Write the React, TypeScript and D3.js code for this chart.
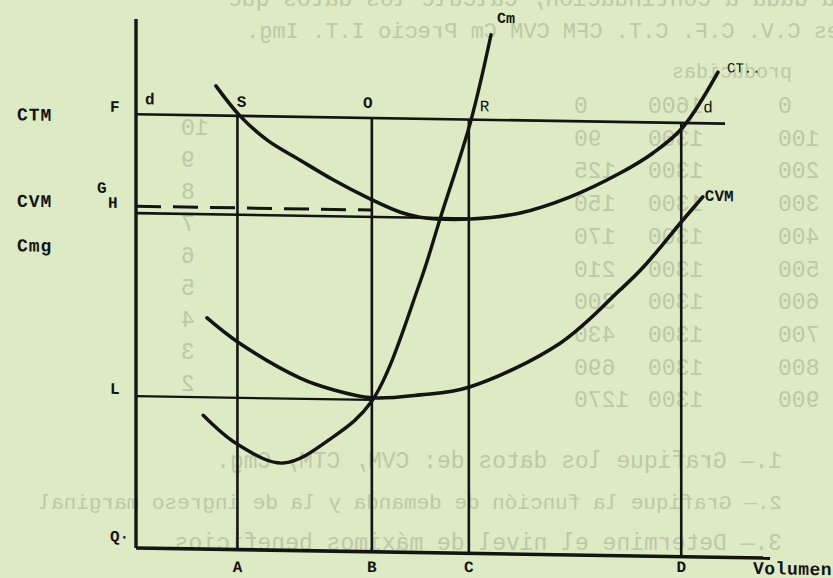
import React from "react";
import * as d3 from "d3";

// quantities marked on the "Volumen" axis
const volumeLabels = ["A", "B", "C", "D"];
const volumeValues = [160, 372, 525, 860];

// cost levels marked on the vertical axis
const levelLabels = ["F", "G", "H", "L"];
const levelValues = [82, 64.6, 63.3, 28.7];

// CT.. (average total cost) curve
const ctmQ = [126, 164, 207, 259, 311, 369, 416, 448, 527, 606, 685, 763, 815, 862, 918];
const ctmC = [87.6, 82.0, 77.5, 73.8, 70.2, 66.7, 64.3, 63.4, 63.2, 64.5, 67.7, 72.3, 76.2, 81.1, 91.7];

// Cm (marginal cost) curve
const cmQ = [106, 159, 232, 311, 372, 448, 480, 528, 560];
const cmC = [25.3, 20.0, 16.5, 21.6, 28.5, 51.1, 63.3, 81.7, 98.1];

// CVM (average variable cost) curve
const cvmQ = [112, 161, 259, 311, 372, 448, 525, 669, 763, 800, 863, 894];
const cvmC = [43.7, 39.2, 32.6, 30.5, 29.1, 29.8, 31.4, 40.0, 50.2, 54.6, 63.7, 68.1];

// text showing through from the back of the page (mirrored)
const backHeader = [
  "—En la tabla dada a continuación, calcule los datos que",
  "unidades  C.V.  C.F.  C.T.  CFM  CVM  Cm  Precio  I.T.  Img.",
  "producidas",
];
const tableUnits = ["0", "100", "200", "300", "400", "500", "600", "700", "800", "900"];
const tableFixed = ["1600", "1300", "1300", "1300", "1300", "1300", "1300", "1300", "1300", "1300"];
const tableVar = ["0", "90", "125", "150", "170", "210", "300", "430", "690", "1270"];
const scaleDigits = ["10", "9", "8", "7", "6", "5", "4", "3", "2"];
const exercises = [
  "1.— Grafique los datos de: CVM, CTM, Cmg.",
  "2.— Grafique la función de demanda y la de ingreso marginal",
  "3.— Determine el nivel de máximos beneficios",
];

const W = 833;
const H = 578;
const skew = 0.016; // the scan is slightly tilted

const ink = "#141412";
const paper = "#dcebc3";
const ghost = "#bcc8a7";

function zip(q: number[], c: number[]) {
  return q.map((v, i) => [v, c[i]] as [number, number]);
}

function Mirror({ x, y, anchor, size, children }: { x: number; y: number; anchor: string; size?: number; children: any }) {
  return (
    <text
      transform={`translate(${x},${y}) scale(-1,1)`}
      textAnchor={anchor}
      style={size ? { fontSize: size } : undefined}
    >
      {children}
    </text>
  );
}

export default function App() {
  const x = d3.scaleLinear().domain([0, 1000]).range([136, 770]);
  const y = d3.scaleLinear().domain([0, 100]).range([548, 19]);

  const line = d3
    .line<[number, number]>()
    .x(d => x(d[0]))
    .y(d => y(d[1]))
    .curve(d3.curveCatmullRom.alpha(0.5));

  const ctm = zip(ctmQ, ctmC);
  const cm = zip(cmQ, cmC);
  const cvm = zip(cvmQ, cvmC);

  const [qA, qB, qC, qD] = volumeValues;
  const [F, G, Hh, L] = levelValues;
  const cmEnd = cm[cm.length - 1];
  const ctmEnd = ctm[ctm.length - 1];
  const cvmEnd = cvm[cvm.length - 1];

  // undo the tilt for text that sits level on the page
  const level = (px: number) => -skew * (px - x(0));

  const big = { fontFamily: "'Liberation Mono', monospace", fontWeight: 700 };

  return (
    <svg
      width={W}
      height={H}
      style={{ position: "absolute", left: 0, top: 0, background: paper }}
    >
      <rect width={W} height={H} fill={paper} />

      {/* bleed-through of the other side */}
      <g fill={ghost} style={{ fontFamily: "'Liberation Mono', monospace", fontSize: 23 }}>
        <Mirror x={228} y={6} anchor="end">{backHeader[0]}</Mirror>
        <Mirror x={246} y={38} anchor="end" size={22}>{backHeader[1]}</Mirror>
        <Mirror x={792} y={78} anchor="start" size={20}>{backHeader[2]}</Mirror>
        {scaleDigits.map((d, i) => (
          <Mirror key={"s" + i} x={181} y={135 + i * 32} anchor="end">{d}</Mirror>
        ))}
        {tableUnits.map((d, i) => (
          <g key={"t" + i}>
            <Mirror x={574} y={113 + i * 32.7} anchor="end">{tableVar[i]}</Mirror>
            <Mirror x={648} y={113 + i * 32.7} anchor="end">{tableFixed[i]}</Mirror>
            <Mirror x={778} y={113 + i * 32.7} anchor="end">{d}</Mirror>
          </g>
        ))}
        {exercises.map((t, i) => (
          <Mirror key={"e" + i} x={782} y={468 + i * 41} anchor="start" size={i === 1 ? 21 : 23}>
            {t}
          </Mirror>
        ))}
      </g>

      <g transform={`matrix(1,${skew},0,1,0,${-skew * x(0)})`}>
        {/* guide lines */}
        <line x1={x(0)} x2={x(929)} y1={y(F)} y2={y(F)} stroke={ink} strokeWidth={2.6} />
        <line x1={x(0)} x2={x(qC)} y1={y(Hh)} y2={y(Hh)} stroke={ink} strokeWidth={2.6} />
        <line
          x1={x(0)}
          x2={x(qB)}
          y1={y(G)}
          y2={y(G)}
          stroke={ink}
          strokeWidth={3}
          strokeDasharray="25 12"
        />
        <line x1={x(0)} x2={x(qB)} y1={y(L)} y2={y(L)} stroke={ink} strokeWidth={2.2} />
        {volumeValues.map((v, i) => (
          <line key={i} x1={x(v)} x2={x(v)} y1={y(F)} y2={y(0)} stroke={ink} strokeWidth={2.6} />
        ))}

        {/* axes */}
        <line x1={x(0)} x2={x(0)} y1={y(100)} y2={y(0)} stroke={ink} strokeWidth={3.4} />
        <line x1={x(0)} x2={x(1000)} y1={y(0)} y2={y(0)} stroke={ink} strokeWidth={3.6} />

        {/* curves */}
        <path d={line(ctm) || ""} fill="none" stroke={ink} strokeWidth={3.6} strokeLinecap="round" />
        <path d={line(cm) || ""} fill="none" stroke={ink} strokeWidth={3.4} strokeLinecap="round" />
        <path d={line(cvm) || ""} fill="none" stroke={ink} strokeWidth={3.6} strokeLinecap="round" />

        {/* left labels */}
        <g fill={ink} style={{ ...big, fontSize: 18, letterSpacing: 1 }}>
          <text x={17} y={y(F) + 8}>CTM</text>
          <text x={17} y={y(Hh) - 4.5}>CVM</text>
          <text x={17} y={y(Hh) + 40}>Cmg</text>
        </g>

        <g fill={ink} style={{ ...big, fontSize: 16 }}>
          <text x={110} y={y(F) - 2}>{levelLabels[0]}</text>
          <text x={97} y={y(G) - 13}>{levelLabels[1]}</text>
          <text x={108} y={y(Hh) - 5}>{levelLabels[2]}</text>
          <text x={110} y={y(L) - 2}>{levelLabels[3]}</text>
          <text x={110} y={y(0) - 6}>Q·</text>
          <text x={x(0) + 9} y={y(F) - 10}>d</text>
          <text x={x(qA) + 4} y={y(F) - 9} textAnchor="middle">S</text>
          <text x={x(qB) - 4} y={y(F) - 10} textAnchor="middle">O</text>
          {volumeLabels.map((t, i) => (
            <text
              key={t}
              x={x(volumeValues[i])}
              y={y(0) + 24 + level(x(volumeValues[i]))}
              textAnchor="middle"
            >
              {t}
            </text>
          ))}
        </g>

        <g fill={ink} style={{ fontFamily: "'Liberation Mono', monospace", fontSize: 16 }}>
          <text x={x(qC) + 11} y={y(F) - 8.5}>R</text>
          <text x={x(qD) + 22} y={y(F) - 11}>d</text>
        </g>

        <text
          x={753}
          y={y(0) + 26 + level(753)}
          fill={ink}
          style={{ ...big, fontSize: 18, letterSpacing: 0.5 }}
        >
          Volumen
        </text>

        {/* curve end labels */}
        <g fill={ink} style={{ fontFamily: "'Liberation Mono', monospace" }}>
          <text x={x(cmEnd[0]) + 6} y={y(cmEnd[1]) - 12} style={{ fontSize: 15, fontWeight: 700 }}>Cm</text>
          <text x={x(ctmEnd[0]) + 9} y={y(ctmEnd[1])} style={{ fontSize: 14 }}>CT..</text>
          <text x={x(cvmEnd[0]) + 2} y={y(cvmEnd[1]) + 4} style={{ fontSize: 16, fontWeight: 700 }}>CVM</text>
        </g>
      </g>
    </svg>
  );
}
